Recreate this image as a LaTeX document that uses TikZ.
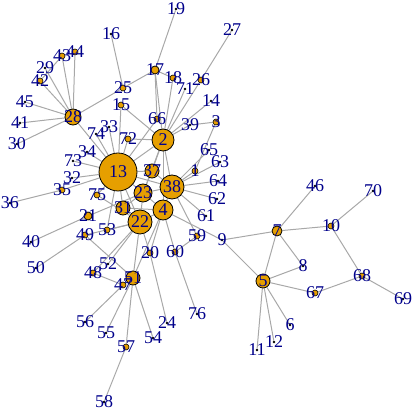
\documentclass[tikz,border=0pt]{standalone}
\usepackage{fontspec}
\setmainfont{Liberation Serif}
\usepackage{xcolor}
\usepackage{tikz}
\usetikzlibrary{positioning}
\pgfdeclarelayer{background}
\pgfsetlayers{background,main}
\definecolor{vertexorange}{RGB}{230, 159, 0}
\definecolor{edgegray}{RGB}{168, 168, 168}
\definecolor{labelblue}{RGB}{0, 0, 139}
\tikzset{
    hub/.style={circle, draw=black, line width=0.8pt, fill=vertexorange, inner sep=0pt},
    leaf/.style={circle, draw=black, line width=0.6pt, fill=vertexorange, inner sep=0pt, minimum size=6pt},
    tip/.style={circle, fill=black, inner sep=0pt, minimum size=2.6pt},
    link/.style={draw=edgegray, line width=1pt},
    vlabel/.style={text=labelblue, font=\fontsize{18}{18}\selectfont, inner sep=0pt}
}

\begin{document}
\begin{tikzpicture}[x=1pt, y=-1pt]
    \useasboundingbox (0,0) rectangle (415,411);

    % Large vertices
    \foreach \n/\x/\y/\r in {13/118/172/19, 2/163/140/11, 38/172/187/12, 22/140/222/12,
        4/163/210/10, 23/143/193/9, 28/73/117/8, 37/152/171/7, 31/123/208/7,
        51/133/278/7, 5/263/281/7, 7/277/231/5, 17/155/70/4, 21/88/216/4}
        \node[hub, minimum size=2*\r pt] (v\n) at (\x,\y) {};

    % Small vertices
    \foreach \n/\x/\y in {43/62/56, 44/75/52, 42/40/81, 25/123/88, 15/121/105, 18/173/78,
        26/201/80, 66/157/119, 3/216/122, 1/195/171, 72/128/139, 35/62/190, 75/97/195,
        53/107/230, 49/85/235, 48/93/273, 47/123/285, 57/126/347, 20/150/253, 60/175/252,
        59/197/236, 10/331/226, 68/362/276, 67/315/293}
        \node[leaf] (v\n) at (\x,\y) {};

    % Pendant vertices
    \foreach \n/\x/\y in {16/111/34, 19/176/9, 27/232/30, 71/185/89, 14/211/101, 39/190/125,
        65/209/150, 63/220/162, 64/218/181, 62/217/199, 61/206/216, 9/222/240, 29/45/68,
        45/25/102, 41/20/123, 30/17/144, 74/96/134, 33/109/127, 34/87/152, 73/73/161,
        32/72/178, 36/10/203, 40/31/242, 50/36/268, 52/108/264, 56/85/322, 55/106/333,
        58/104/402, 54/153/338, 24/167/323, 76/197/314, 11/257/350, 12/274/342, 6/290/325,
        8/303/266, 46/315/186, 70/373/191, 69/403/299}
        \node[tip] (v\n) at (\x,\y) {};

    % Edges
    \begin{pgfonlayer}{background}
        \foreach \a/\b in {28/29, 28/43, 28/44, 28/42, 28/45, 28/41, 28/30, 28/25, 28/13, 42/43,
            25/16, 25/17, 17/19, 17/18, 17/66, 17/2, 18/2, 71/2, 26/27, 26/2, 14/2, 39/2, 39/3,
            3/1, 66/13, 15/13, 15/2, 72/13, 72/2, 74/13, 33/13, 34/13, 73/13, 32/13, 35/13,
            35/36, 75/13, 75/22, 2/13, 2/37, 2/38, 2/23, 2/4, 1/38, 65/38, 63/38, 64/38, 62/38,
            61/38, 59/38, 59/60, 60/4, 60/76, 4/9, 9/7, 9/5, 4/38, 4/22, 4/23, 4/31, 13/37,
            13/23, 13/31, 13/22, 13/38, 37/23, 37/38, 23/38, 23/22, 23/31, 31/22, 21/40, 21/23,
            49/50, 49/22, 49/51, 53/22, 53/13, 52/22, 48/47, 48/22, 47/51, 47/56, 51/55, 51/57,
            51/54, 51/22, 51/4, 57/58, 20/24, 20/22, 20/4, 7/46, 7/10, 7/8, 7/5, 8/5, 10/70,
            10/68, 68/69, 68/67, 67/5, 5/6, 5/12, 5/11}
            \draw[link] (v\a) -- (v\b);
    \end{pgfonlayer}

    % Labels
    \foreach \n in {1,...,76}
        \node[vlabel] (t\n) at (v\n) {\n};
\end{tikzpicture}
\end{document}
